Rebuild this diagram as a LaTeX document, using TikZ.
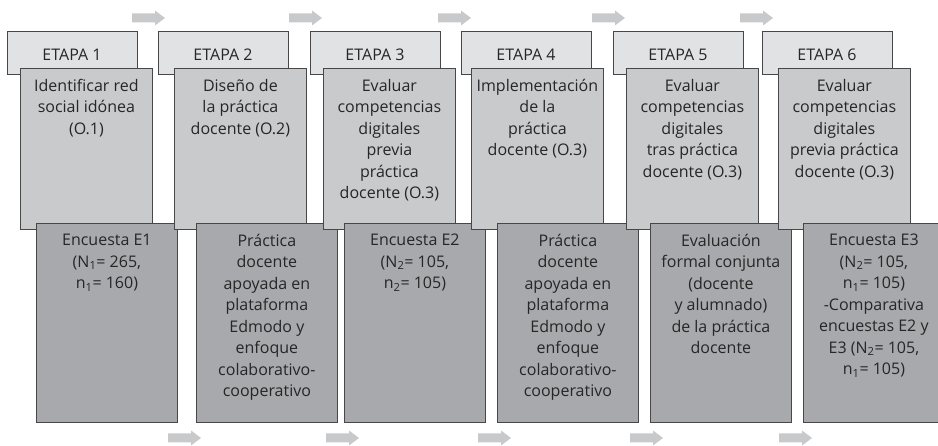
\documentclass[tikz,border=0pt]{standalone}
\usepackage{fontspec}
\setmainfont{Open Sans}
\usepackage{tikz}
\usetikzlibrary{calc}
\definecolor{etapagray}{HTML}{E1E2E4}
\definecolor{objgray}{HTML}{C9CACC}
\definecolor{resgray}{HTML}{A8A9AC}
\definecolor{arrowgray}{HTML}{C8C9CB}
\definecolor{linegray}{HTML}{474747}
\definecolor{textgray}{HTML}{262626}
\tikzset{
  etapabox/.style={draw=linegray, fill=etapagray, line width=0.8pt, anchor=north west, inner sep=0pt, minimum width=130pt, minimum height=43pt},
  objbox/.style={draw=linegray, fill=objgray, line width=0.8pt, anchor=north west, inner sep=0pt, minimum width=132pt, minimum height=161pt},
  resbox/.style={draw=linegray, fill=resgray, line width=0.8pt, anchor=north west, inner sep=0pt, minimum width=141pt, minimum height=199pt},
  boxtext/.style={anchor=north, inner sep=0pt, align=center, text=textgray, font=\fontsize{16}{21.5}\selectfont}
}
\newcommand{\flecha}[2]{ \fill[arrowgray] ( #1 , #2 - 4.5 ) -- ( #1 + 23 , #2 - 4.5 ) -- ( #1 + 23 , #2 - 7.5 ) -- ( #1 + 33 , #2 ) -- ( #1 + 23 , #2 + 7.5 ) -- ( #1 + 23 , #2 + 4.5 ) -- ( #1 , #2 + 4.5 ) -- cycle;}
\newcommand{\etapa}[6]{ \node[etapabox] (etapa#4) at ( #1 , 31 ) {}; \node[boxtext] (etapalabel#4) at ( #1 + 65 , 48.5 ) {ETAPA #4};
  \node[objbox] (obj#4) at ( #2 , 68 ) {}; \node[boxtext] (objlabel#4) at ($(obj#4.north)+(0,11)$) {#5};
  \node[resbox] (res#4) at ( #3 , 223 ) {}; \node[boxtext] (reslabel#4) at ($(res#4.north)+(0,11)$) {#6};}

\begin{document}
\begin{tikzpicture}[x=1pt,y=-1pt]
        \useasboundingbox ( 0 , 0 ) rectangle ( 938 , 446 );
        % arrows top
        \flecha{132}{18}
        \flecha{289}{18}
        \flecha{438}{18}
        \flecha{592}{18}
        \flecha{740}{18}

        % col1
        \etapa{7}{20}{36}{1}{Identificar red\\social idónea\\(O.1)}{Encuesta E1\\(N\textsubscript{1}= 265,\\n\textsubscript{1}= 160)}
        % col2
        \etapa{158}{174}{196}{2}{Diseño de\\la práctica\\docente (O.2)}{Práctica\\docente\\apoyada en\\plataforma\\Edmodo y\\enfoque\\colaborativo-\\cooperativo}
        % col3
        \etapa{310}{323}{344}{3}{Evaluar\\competencias\\digitales\\previa\\práctica\\docente (O.3)}{Encuesta E2\\(N\textsubscript{2}= 105,\\n\textsubscript{2}= 105)}
        % col4
        \etapa{461}{471}{497}{4}{Implementación\\de la\\práctica\\docente (O.3)}{Práctica\\docente\\apoyada en\\plataforma\\Edmodo y\\enfoque\\colaborativo-\\cooperativo}
        % col5
        \etapa{613}{626}{650}{5}{Evaluar\\competencias\\digitales\\tras práctica\\docente (O.3)}{Evaluación\\formal conjunta\\(docente\\y alumnado)\\de la práctica\\docente}
        % col6
        \etapa{762}{778}{803}{6}{Evaluar\\competencias\\digitales\\previa práctica\\docente (O.3)}{Encuesta E3\\(N\textsubscript{2}= 105,\\n\textsubscript{1}= 105)\\-Comparativa\\encuestas E2 y\\E3 (N\textsubscript{2}= 105,\\n\textsubscript{1}= 105)}

        % arrows bottom
        \flecha{168}{438}
        \flecha{326}{438}
        \flecha{478}{438}
        \flecha{630}{438}
        \flecha{779}{438}
    \end{tikzpicture}
\end{document}
